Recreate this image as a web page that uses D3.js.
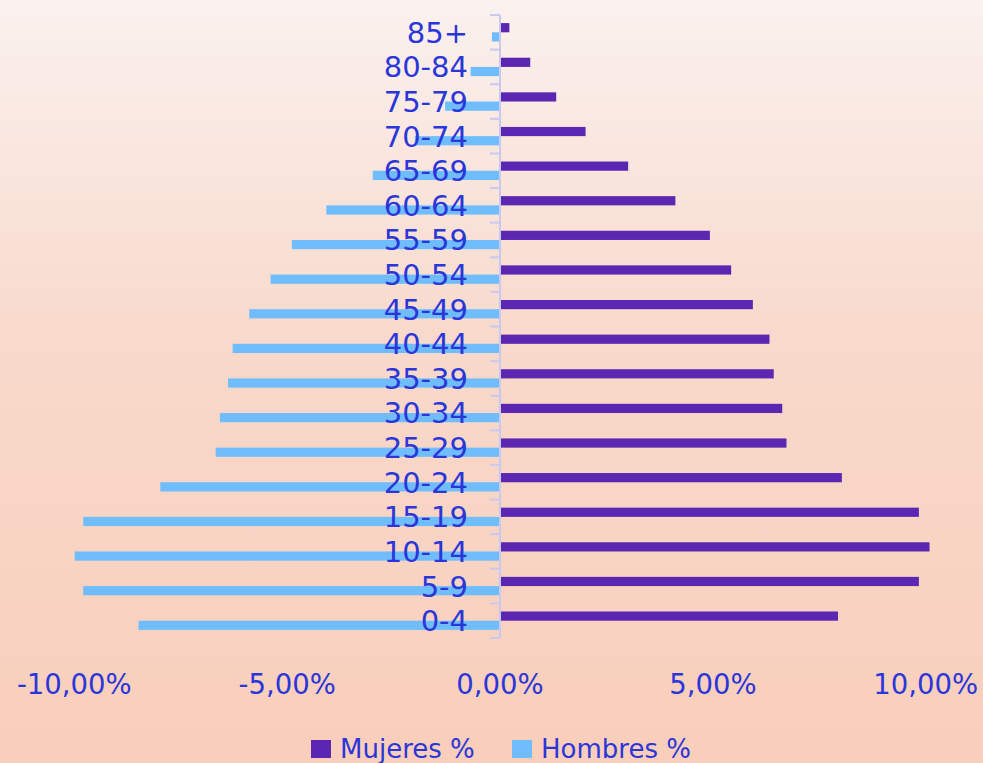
<!DOCTYPE html>
<html>
<head>
<meta charset="utf-8">
<script src="https://cdn.jsdelivr.net/npm/d3@7"></script>
<style>
  html, body { margin: 0; padding: 0; overflow: hidden; }
  svg { display: block; }
</style>
</head>
<body>
<div id="chart"></div>
<script>
// ---- Data ----
const categories = ["85+","80-84","75-79","70-74","65-69","60-64","55-59","50-54","45-49","40-44","35-39","30-34","25-29","20-24","15-19","10-14","5-9","0-4"];
const mujeres = [0.22,0.71,1.32,2.01,3.01,4.12,4.93,5.43,5.94,6.33,6.43,6.63,6.73,8.03,9.84,10.09,9.84,7.94];
const hombres = [0.19,0.69,1.29,2.00,2.99,4.08,4.89,5.39,5.89,6.28,6.39,6.58,6.68,7.98,9.79,9.99,9.79,8.49];
const tickValues = [-10,-5,0,5,10];
const tickLabels = ["-10,00%","-5,00%","0,00%","5,00%","10,00%"];
const seriesNames = ["Mujeres %","Hombres %"];

// ---- Layout ----
const W = 983, H = 763;
const colMuj = "#5b26b1", colHom = "#70bdfe", txt = "#2b36d9", axisCol = "#c9c9f0";
const font = "'DejaVu Sans', sans-serif";

const svg = d3.select("#chart").append("svg").attr("width", W).attr("height", H);
const defs = svg.append("defs");
const grad = defs.append("linearGradient").attr("id","bg").attr("x1",0).attr("y1",0).attr("x2",0).attr("y2",1);
grad.append("stop").attr("offset","0%").attr("stop-color","#faf1ee");
grad.append("stop").attr("offset","45%").attr("stop-color","#f8d9cb");
grad.append("stop").attr("offset","100%").attr("stop-color","#f9cebb");
svg.append("rect").attr("width",W).attr("height",H).attr("fill","url(#bg)");

const x = d3.scaleLinear().domain([-10,10]).range([74.3, 925.7]);
const y = d3.scaleBand().domain(categories).range([15, 638]).paddingInner(0).paddingOuter(0);
const sub = d3.scaleBand().domain(["m","h"]).range([0, y.bandwidth()]).paddingInner(0).paddingOuter(0.88);
const x0 = x(0);

// bars
const rows = categories.map((c,i) => ({c, m: mujeres[i], h: hombres[i]}));
svg.append("g").selectAll("rect").data(rows).join("rect")
  .attr("x", x0 + 1).attr("y", d => y(d.c) + sub("m"))
  .attr("width", d => x(d.m) - x0 - 1).attr("height", sub.bandwidth())
  .attr("fill", colMuj);
svg.append("g").selectAll("rect").data(rows).join("rect")
  .attr("x", d => x(-d.h)).attr("y", d => y(d.c) + sub("h"))
  .attr("width", d => x0 - 1 - x(-d.h)).attr("height", sub.bandwidth())
  .attr("fill", colHom);

// vertical axis line and ticks at band boundaries
const boundaries = categories.map(c => y(c)).concat([y(categories[categories.length-1]) + y.bandwidth()]);
svg.append("line").attr("x1", x0).attr("x2", x0).attr("y1", 15).attr("y2", 638)
  .attr("stroke", axisCol).attr("stroke-width", 2);
svg.append("g").selectAll("line").data(boundaries).join("line")
  .attr("x1", x0 - 10).attr("x2", x0).attr("y1", d => d).attr("y2", d => d)
  .attr("stroke", axisCol).attr("stroke-width", 2);

// category labels
svg.append("g").selectAll("text").data(categories).join("text")
  .attr("x", 468).attr("y", d => y(d) + y.bandwidth()/2)
  .attr("dy", "0.36em")
  .attr("text-anchor", "end")
  .attr("font-family", font).attr("font-size", 29).attr("fill", txt)
  .text(d => d);

// x tick labels
svg.append("g").selectAll("text").data(tickValues).join("text")
  .attr("x", d => x(d)).attr("y", 694)
  .attr("text-anchor", "middle")
  .attr("font-family", font).attr("font-size", 27.5).attr("fill", txt)
  .text((d,i) => tickLabels[i]);

// legend
const leg = [{n: seriesNames[0], c: colMuj, x: 311}, {n: seriesNames[1], c: colHom, x: 512}];
const lg = svg.append("g").selectAll("g").data(leg).join("g");
lg.append("rect").attr("x", d => d.x).attr("y", 740).attr("width", 20).attr("height", 18).attr("fill", d => d.c);
lg.append("text").attr("x", d => d.x + 29).attr("y", 758)
  .attr("font-family", font).attr("font-size", 26).attr("fill", txt)
  .text(d => d.n);
</script>
</body>
</html>
